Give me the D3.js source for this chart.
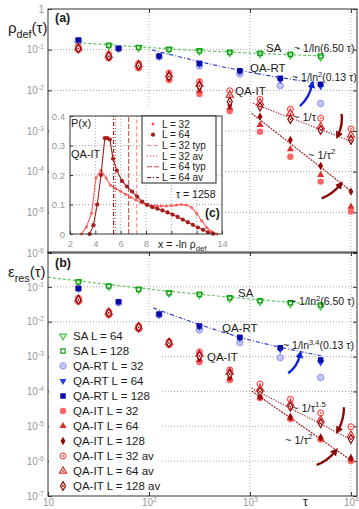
<!DOCTYPE html>
<html>
<head>
<meta charset="utf-8">
<script src="https://cdn.jsdelivr.net/npm/d3@7"></script>
<style>
  body { margin: 0; background: #fff; }
  svg { display: block; font-family: "Liberation Sans", Arial, sans-serif; }
</style>
</head>
<body>
<svg id="chart" width="359" height="509"></svg>
<script>
// annealing times
const tauSA = [20, 40, 79, 158, 316, 631, 1259, 2512, 5012];
const tauRT = [20, 50, 126, 316, 794, 1995, 5012];
const tauIT = [20, 40, 79, 158, 316, 631, 1259, 2512, 5012, 10000];

// (a) density of defects
const rhoSA64 = [0.141, 0.125, 0.112, 0.100, 0.092, 0.084, 0.079, 0.074, 0.066];
const rhoSA128 = [0.144, 0.128, 0.114, 0.102, 0.094, 0.086, 0.0815, 0.077, 0.070];
const rhoRT32 = [0.165, 0.104, 0.066, 0.040, 0.0252, 0.0131, 0.00475];
const rhoRT64 = [0.170, 0.106, 0.068, 0.044, 0.029, 0.018, 0.0125];
const rhoRT128 = [0.173, 0.108, 0.070, 0.046, 0.0304, 0.0198, 0.0141];
const rhoIT32 = [0.0982, 0.0614, 0.0347, 0.0179, 0.00813, 0.0031, 0.00096, 0.000233, 5.7e-5, 1.05e-5];
const rhoIT64 = [0.102, 0.0646, 0.0372, 0.0195, 0.00964, 0.00368, 0.00141, 0.000355, 8.3e-5, 1.38e-5];
const rhoIT128 = [0.105, 0.0676, 0.0398, 0.0209, 0.0114, 0.00437, 0.00225, 0.0006, 0.000138, 3.24e-5];
const rhoIT32av = [0.117, 0.0776, 0.0457, 0.0267, 0.0163, 0.0098, 0.00603, 0.00342, 0.00206, 0.00112];
const rhoIT64av = [0.112, 0.0724, 0.0427, 0.024, 0.0143, 0.00767, 0.0049, 0.00272, 0.00128, 0.00079];
const rhoIT128av = [0.107, 0.0692, 0.0407, 0.0219, 0.0128, 0.00525, 0.00398, 0.00194, 0.00106, 0.0006];

// (b) residual energy
const epsSA64 = [0.137, 0.103, 0.083, 0.066, 0.059, 0.047, 0.038, 0.033, 0.028];
const epsSA128 = [0.1406, 0.106, 0.0851, 0.068, 0.0612, 0.0489, 0.0401, 0.0351, 0.0302];
const epsRT32 = [0.087, 0.035, 0.0155, 0.0058, 0.00251, 0.00093, 0.00025];
const epsRT64 = [0.089, 0.0365, 0.016, 0.0071, 0.0033, 0.0016, 0.00068];
const epsRT128 = [0.091, 0.0376, 0.0166, 0.00753, 0.00357, 0.0018, 0.0008];
const epsIT32 = [0.0375, 0.0156, 0.00607, 0.00215, 0.0007, 0.000213, 6.46e-5, 1.62e-5, 4.17e-6, 1.01e-6];
const epsIT64 = [0.0389, 0.0162, 0.00631, 0.00224, 0.000794, 0.000235, 6.76e-5, 1.74e-5, 4.47e-6, 1.12e-6];
const epsIT128 = [0.0407, 0.017, 0.00661, 0.00234, 0.000912, 0.000259, 7.06e-5, 1.85e-5, 4.79e-6, 1.23e-6];
const epsIT32av = [0.047, 0.0194, 0.00753, 0.00267, 0.00135, 0.000412, 0.000163, 5.96e-5, 2.41e-5, 9.75e-6];
const epsIT64av = [0.0447, 0.0186, 0.00724, 0.00257, 0.00118, 0.000361, 0.000118, 4.37e-5, 1.52e-5, 5.62e-6];
const epsIT128av = [0.0427, 0.0178, 0.00692, 0.00246, 0.00105, 0.000316, 9.8e-5, 3.65e-5, 1.22e-5, 4.33e-6];

// fit curves as [tau, value]
const fitA_SA = [[20, 0.148], [316, 0.095], [5047, 0.070]];
const fitA_RT = [[107, 0.098], [794, 0.031], [5280, 0.0143]];
const fitA_IT1 = [[1072, 0.0048], [10230, 0.000546]];
const fitA_IT2 = [[1040, 0.00272], [10230, 3.22e-5]];
const fitB_SA = [[10, 0.188], [316, 0.0612], [5164, 0.0302]];
const fitB_RT = [[110, 0.0248], [794, 0.0036], [5164, 0.00104]];
const fitB_IT15 = [[1040, 0.000123], [10160, 4.05e-6]];
const fitB_IT2 = [[1040, 0.000103], [10160, 1.03e-6]];

// (c) inset: P(x) at tau = 1258
const inX32 = [2.9, 3.3, 3.7, 4.05, 4.45, 4.85, 5.2, 5.6, 6.0, 6.4, 6.8, 7.2, 7.6, 8.0, 8.4, 8.8, 9.2, 9.6, 10.0, 10.4, 10.8, 11.2, 11.6, 12.0, 12.4, 12.8, 13.2, 13.6];
const inP32 = [0, 0.025, 0.07, 0.19, 0.216, 0.19, 0.165, 0.154, 0.145, 0.135, 0.125, 0.115, 0.107, 0.1, 0.097, 0.096, 0.095, 0.095, 0.096, 0.098, 0.1, 0.098, 0.09, 0.07, 0.045, 0.022, 0.008, 0];
const inX64 = [3.55, 3.85, 4.15, 4.45, 4.75, 4.95, 5.15, 5.4, 5.7, 6.1, 6.5, 6.9, 7.3, 7.7, 8.1, 8.5, 8.9, 9.3, 9.7, 10.1, 10.5, 10.9, 11.3, 11.7, 12.1, 12.5, 12.9, 13.3];
const inP64 = [0, 0.03, 0.1, 0.2, 0.325, 0.325, 0.32, 0.255, 0.215, 0.18, 0.161, 0.144, 0.127, 0.11, 0.099, 0.091, 0.086, 0.08, 0.073, 0.066, 0.058, 0.049, 0.04, 0.031, 0.022, 0.014, 0.006, 0.001];
const inLineX = [7.27, 5.57, 6.63, 5.44];   // L32 typ, L32 av, L64 typ, L64 av

const legendNames = ["SA L = 64", "SA L = 128", "QA-RT L = 32", "QA-RT L = 64", "QA-RT L = 128",
  "QA-IT L = 32", "QA-IT L = 64", "QA-IT L = 128", "QA-IT L = 32 av", "QA-IT L = 64 av", "QA-IT L = 128 av"];
const inLegend = ["L = 32", "L = 64", "L = 32 typ", "L = 32 av", "L = 64 typ", "L = 64 av"];

const svg = d3.select("#chart");
const xL = 48, xR = 357;
const x = d3.scaleLog().domain([10, 11480]).range([xL, xR]);
const ya = d3.scaleLog().domain([1e-6, 1]).range([253, 9]);
const yb = d3.scaleLog().domain([1e-7, 1]).range([496, 252]);

const RED = "#8a0a0a", BLUE = "#0b22d6";

const marks = {
  sa64:   {sym: d3.symbolTriangle, size: 20, rot: 180, fill: "none", stroke: "#3ccc3c"},
  sa128:  {sym: d3.symbolSquare, size: 18, fill: "none", stroke: "#129a12"},
  rt32:   {sym: d3.symbolCircle, size: 30, fill: "#c6c8ff", stroke: "#9a9cf2"},
  rt64:   {sym: d3.symbolTriangle, size: 22, rot: 180, fill: "#2b3cf0"},
  rt128:  {sym: d3.symbolSquare, size: 30, fill: "#0a0aa6"},
  it32:   {sym: d3.symbolCircle, size: 32, fill: "#ff6767"},
  it64:   {sym: d3.symbolTriangle, size: 22, fill: "#dc2e2e"},
  it128:  {sym: d3.symbolDiamond, size: 20, fill: "#960404"},
  it32av: {sym: d3.symbolCircle, size: 26, fill: "#fff", stroke: "#ff5050", dot: true},
  it64av: {sym: d3.symbolTriangle, size: 22, fill: "#fff", stroke: "#dc3030", dot: true},
  it128av:{sym: d3.symbolDiamond, size: 22, fill: "#fff", stroke: "#960404", dot: true}
};

function drawMark(g, key, cx, cy) {
  const m = marks[key];
  g.append("path")
    .attr("d", d3.symbol(m.sym, m.size)())
    .attr("transform", "translate(" + cx + "," + cy + ")" + (m.rot ? " rotate(" + m.rot + ")" : ""))
    .attr("fill", m.fill)
    .attr("stroke", m.stroke || "none")
    .attr("stroke-width", 1.2);
  if (m.dot) g.append("circle").attr("cx", cx).attr("cy", cy).attr("r", 0.9).attr("fill", m.stroke);
}

function rich(g, px, py, parts, size, opts) {
  opts = opts || {};
  const t = g.append("text").attr("x", px).attr("y", py).attr("font-size", size)
    .attr("fill", opts.fill || "#1a1a1a").attr("text-anchor", opts.anchor || "start");
  if (opts.bold) t.attr("font-weight", "bold");
  let shift = 0;
  parts.forEach(p => {
    const s = Array.isArray(p) ? p[0] : p, k = Array.isArray(p) ? p[1] : "";
    const target = k === "sup" ? -size * 0.42 : k === "sub" ? size * 0.3 : 0;
    t.append("tspan").attr("dy", target - shift).attr("font-size", k ? size * 0.72 : size).text(s);
    shift = target;
  });
  return t;
}

function panel(y, decades, labelled) {
  const top = y.range()[1], bot = y.range()[0];
  const grid = svg.append("g").attr("stroke", "#aaa").attr("stroke-dasharray", "1,2");
  decades.slice(1, -1).forEach(d => grid.append("line").attr("x1", xL).attr("x2", xR).attr("y1", y(d)).attr("y2", y(d)));
  [100, 1000, 10000].forEach(t => grid.append("line").attr("x1", x(t)).attr("x2", x(t)).attr("y1", top).attr("y2", bot));

  const left = svg.append("g").attr("transform", "translate(" + xL + ",0)")
    .call(d3.axisLeft(y).tickValues(decades).tickSize(-4).tickPadding(4));
  left.select(".domain").remove();
  left.selectAll(".tick line").attr("stroke", "#333");
  left.selectAll(".tick text").attr("fill", "#999").attr("font-size", 10)
    .attr("font-family", "Liberation Sans, Arial, sans-serif")
    .each(function(d) {
      const t = d3.select(this).text("");
      if (!labelled(d)) return;
      if (d === 1) { t.text("1"); return; }
      t.append("tspan").text("10");
      t.append("tspan").attr("dy", -4).attr("font-size", 7).text(Math.round(Math.log10(d)));
    });
  const right = svg.append("g").attr("transform", "translate(" + xR + ",0)")
    .call(d3.axisRight(y).tickValues(decades).tickSize(-4).tickFormat(""));
  right.select(".domain").remove();
  right.selectAll(".tick line").attr("stroke", "#333");
  const topAx = svg.append("g").attr("transform", "translate(0," + top + ")")
    .call(d3.axisTop(x).tickValues([100, 1000, 10000]).tickSize(-4).tickFormat(""));
  topAx.select(".domain").remove();
  topAx.selectAll(".tick line").attr("stroke", "#333");
}

function frame(y) {
  svg.append("rect").attr("x", xL).attr("y", y.range()[1]).attr("width", xR - xL)
    .attr("height", y.range()[0] - y.range()[1]).attr("fill", "none").attr("stroke", "#333");
}

function fit(y, pts, color, dash) {
  svg.append("path").datum(pts)
    .attr("d", d3.line().x(d => x(d[0])).y(d => y(d[1])).curve(d3.curveMonotoneX))
    .attr("fill", "none").attr("stroke", color).attr("stroke-width", 1.1).attr("stroke-dasharray", dash);
}

function series(y, list) {
  const g = svg.append("g");
  list.forEach(s => s.tau.forEach((t, i) => drawMark(g, s.key, x(t), y(s.vals[i]))));
}

const defs = svg.append("defs");
[["arRed", RED], ["arBlue", BLUE]].forEach(([id, c]) => {
  defs.append("marker").attr("id", id).attr("viewBox", "0 0 10 10").attr("refX", 4).attr("refY", 5)
    .attr("markerWidth", 3.2).attr("markerHeight", 3.2).attr("orient", "auto")
    .append("path").attr("d", "M0,0 L10,5 L0,10 z").attr("fill", c);
});

function arrow(y, a) {
  const x1 = x(a.from[0]), y1 = y(a.from[1]), x2 = x(a.to[0]), y2 = y(a.to[1]);
  const dx = x2 - x1, dy = y2 - y1, len = Math.hypot(dx, dy);
  const cx = (x1 + x2) / 2 - dy / len * a.bend, cy = (y1 + y2) / 2 + dx / len * a.bend;
  svg.append("path").attr("d", "M" + x1 + "," + y1 + " Q" + cx + "," + cy + " " + x2 + "," + y2)
    .attr("fill", "none").attr("stroke", a.c === "blue" ? BLUE : RED).attr("stroke-width", 2.4)
    .attr("marker-end", "url(#" + (a.c === "blue" ? "arBlue" : "arRed") + ")");
}

// ---------------- panel (a)
const decA = [1, 1e-1, 1e-2, 1e-3, 1e-4, 1e-5, 1e-6];
panel(ya, decA, d => true);

fit(ya, fitA_SA, "#5cc45c", "3,2");
fit(ya, fitA_RT, "#2233cc", "4,2,1,2");
series(ya, [
  {key: "sa64", tau: tauSA, vals: rhoSA64},
  {key: "sa128", tau: tauSA, vals: rhoSA128},
  {key: "rt32", tau: tauRT, vals: rhoRT32},
  {key: "rt64", tau: tauRT, vals: rhoRT64},
  {key: "rt128", tau: tauRT, vals: rhoRT128},
  {key: "it32", tau: tauIT, vals: rhoIT32},
  {key: "it64", tau: tauIT, vals: rhoIT64},
  {key: "it128", tau: tauIT, vals: rhoIT128},
  {key: "it32av", tau: tauIT, vals: rhoIT32av},
  {key: "it64av", tau: tauIT, vals: rhoIT64av},
  {key: "it128av", tau: tauIT, vals: rhoIT128av}
]);
fit(ya, fitA_IT1, "#a01010", "1.2,1.5");
fit(ya, fitA_IT2, "#a01010", "2,1");

[{from: [3126, 0.0041], to: [4110, 0.0135], c: "blue", bend: 4},
 {from: [8090, 0.00262], to: [7480, 0.0008], c: "red", bend: -3},
 {from: [5130, 2.21e-5], to: [7780, 4.7e-5], c: "red", bend: 3}].forEach(a => arrow(ya, a));

const la = svg.append("g");
rich(la, 266, 52, ["SA"], 11.5);
rich(la, 294, 52, ["~ 1/ln(6.50 τ)"], 10.5);
rich(la, 250, 72, ["QA-RT"], 11.5);
rich(la, 292, 81, ["~ 1/ln", ["2", "sup"], "(0.13 τ)"], 10.5);
rich(la, 235, 95, ["QA-IT"], 11.5);
rich(la, 293, 121, ["~ 1/τ"], 11);
rich(la, 308, 159, ["~ 1/τ", ["2", "sup"]], 11);
rich(la, 55, 22, ["(a)"], 12.5, {bold: true});
rich(la, 8, 33, ["ρ", ["def", "sub"], "(τ)"], 15);

// ---------------- inset (c)
const ix = d3.scaleLinear().domain([2, 14]).range([70, 222]);
const iy = d3.scaleLinear().domain([0, 0.4]).range([234, 116]);
svg.append("rect").attr("x", 49).attr("y", 107).attr("width", 175).attr("height", 145).attr("fill", "#fff");
const ig = svg.append("g").attr("stroke", "#aaa").attr("stroke-dasharray", "1,2");
[4, 6, 8, 10, 12].forEach(v => ig.append("line").attr("x1", ix(v)).attr("x2", ix(v)).attr("y1", iy(0)).attr("y2", iy(0.4)));
[0.1, 0.2, 0.3].forEach(v => ig.append("line").attr("x1", ix(2)).attr("x2", ix(14)).attr("y1", iy(v)).attr("y2", iy(v)));

const iLeft = svg.append("g").attr("transform", "translate(" + ix(2) + ",0)")
  .call(d3.axisLeft(iy).tickValues([0, 0.1, 0.2, 0.3, 0.4]).tickSize(-3).tickPadding(5).tickFormat(d3.format("~g")));
const iBot = svg.append("g").attr("transform", "translate(0," + iy(0) + ")")
  .call(d3.axisBottom(ix).tickValues([2, 4, 6, 8, 10, 12, 14]).tickSize(-3).tickPadding(6)
    .tickFormat(d => (d === 10 || d === 12) ? "" : d));
[iLeft, iBot].forEach(a => {
  a.select(".domain").remove();
  a.selectAll(".tick line").attr("stroke", "#333");
  a.selectAll(".tick text").attr("fill", "#999").attr("font-size", 9.5).attr("font-family", "Liberation Sans, Arial, sans-serif");
});

const inStyles = [
  {c: "#ff7a7a", dash: "4,2.5"},
  {c: "#ff3a3a", dash: "1.2,1.8"},
  {c: "#c04848", dash: "5,2"},
  {c: "#8e1414", dash: "4,2,1,2"}
];
inLineX.forEach((v, i) => svg.append("line").attr("x1", ix(v)).attr("x2", ix(v)).attr("y1", iy(0)).attr("y2", iy(0.4))
  .attr("stroke", inStyles[i].c).attr("stroke-dasharray", inStyles[i].dash));

const ln = d3.line().x(d => ix(d[0])).y(d => iy(d[1]));
const d32 = inX32.map((v, i) => [v, inP32[i]]), d64 = inX64.map((v, i) => [v, inP64[i]]);
svg.append("path").attr("d", ln(d32)).attr("fill", "none").attr("stroke", "#ff5c5c").attr("stroke-width", 1.1);
svg.selectAll(".p32").data(d32).enter().append("circle").attr("cx", d => ix(d[0])).attr("cy", d => iy(d[1]))
  .attr("r", 1.5).attr("fill", "#ff5c5c");
svg.append("path").attr("d", ln(d64)).attr("fill", "none").attr("stroke", "#a81c1c").attr("stroke-width", 1.1);
svg.selectAll(".p64").data(d64).enter().append("circle").attr("cx", d => ix(d[0])).attr("cy", d => iy(d[1]))
  .attr("r", 2.1).attr("fill", "#a81c1c");

svg.append("rect").attr("x", 70).attr("y", 116).attr("width", 152).attr("height", 118).attr("fill", "none").attr("stroke", "#333");

// inset legend
const il = svg.append("g");
il.append("rect").attr("x", 142).attr("y", 116).attr("width", 74).attr("height", 67).attr("fill", "#fff").attr("stroke", "#222");
inLegend.forEach((name, i) => {
  const yy = 124 + i * 10.7;
  if (i === 0) il.append("circle").attr("cx", 153).attr("cy", yy).attr("r", 1.5).attr("fill", "#ff5c5c");
  else if (i === 1) il.append("circle").attr("cx", 153).attr("cy", yy).attr("r", 2.1).attr("fill", "#a81c1c");
  else il.append("line").attr("x1", 147).attr("x2", 159).attr("y1", yy).attr("y2", yy)
    .attr("stroke", inStyles[i - 2].c).attr("stroke-dasharray", inStyles[i - 2].dash);
  rich(il, 162, yy + 3.5, [name], 10);
});
rich(il, 71, 127, ["P(x)"], 11);
rich(il, 71, 158, ["QA-IT"], 11);
rich(il, 176, 198, ["τ = 1258"], 10.5);
rich(il, 205, 217, ["(c)"], 12, {bold: true});
rich(il, 158, 248, ["x = -ln ρ", ["def", "sub"]], 10.5);

frame(ya);

// ---------------- panel (b)
const decB = [1, 1e-1, 1e-2, 1e-3, 1e-4, 1e-5, 1e-6, 1e-7];
panel(yb, decB, d => d < 1);

// legend background hides the grid
svg.append("rect").attr("x", 49).attr("y", 327).attr("width", 111).attr("height", 168).attr("fill", "#fff");

fit(yb, fitB_SA, "#5cc45c", "3,2");
fit(yb, fitB_RT, "#2233cc", "4,2,1,2");
series(yb, [
  {key: "sa64", tau: tauSA, vals: epsSA64},
  {key: "sa128", tau: tauSA, vals: epsSA128},
  {key: "rt32", tau: tauRT, vals: epsRT32},
  {key: "rt64", tau: tauRT, vals: epsRT64},
  {key: "rt128", tau: tauRT, vals: epsRT128},
  {key: "it32", tau: tauIT, vals: epsIT32},
  {key: "it64", tau: tauIT, vals: epsIT64},
  {key: "it128", tau: tauIT, vals: epsIT128},
  {key: "it32av", tau: tauIT, vals: epsIT32av},
  {key: "it64av", tau: tauIT, vals: epsIT64av},
  {key: "it128av", tau: tauIT, vals: epsIT128av}
]);
fit(yb, fitB_IT15, "#a01010", "1.2,1.5");
fit(yb, fitB_IT2, "#a01010", "2,1");

[{from: [2393, 0.000331], to: [3126, 0.00111], c: "blue", bend: 4},
 {from: [8530, 3.5e-5], to: [7480, 7.8e-6], c: "red", bend: -3},
 {from: [4570, 7.76e-7], to: [6950, 1.87e-6], c: "red", bend: 3}].forEach(a => arrow(yb, a));

const lb = svg.append("g");
rich(lb, 238, 297, ["SA"], 11.5);
rich(lb, 290, 305, ["~ 1/ln", ["2", "sup"], "(6.50 τ)"], 10.5);
rich(lb, 222, 332, ["QA-RT"], 11.5);
rich(lb, 283, 349, ["~ 1/ln", ["3.4", "sup"], "(0.13 τ)"], 10.5);
rich(lb, 207, 361, ["QA-IT"], 11.5);
rich(lb, 292, 412, ["~ 1/τ", ["1.5", "sup"]], 11);
rich(lb, 285, 444, ["~ 1/τ", ["2", "sup"]], 11);
rich(lb, 55, 267, ["(b)"], 12.5, {bold: true});
rich(lb, 8, 277, ["ε", ["res", "sub"], "(τ)"], 15);

// legend
const keys = Object.keys(marks);
legendNames.forEach((name, i) => {
  const yy = 336 + i * 15;
  drawMark(lb, keys[i], 63, yy);
  rich(lb, 73, yy + 4, [name], 11.5);
});

// x axis of (b)
const xb = svg.append("g").attr("transform", "translate(0," + yb.range()[0] + ")")
  .call(d3.axisBottom(x).tickValues([10, 100, 1000, 10000]).tickSize(-4).tickPadding(3));
xb.select(".domain").remove();
xb.selectAll(".tick line").attr("stroke", "#333");
xb.selectAll(".tick text").attr("fill", "#999").attr("font-size", 10)
  .attr("font-family", "Liberation Sans, Arial, sans-serif")
  .each(function(d) {
    const t = d3.select(this).text("");
    if (d === 10) { t.text("10"); return; }
    t.append("tspan").text("10");
    t.append("tspan").attr("dy", -4).attr("font-size", 7).text(Math.round(Math.log10(d)));
  });
rich(lb, 303, 506, ["τ"], 12);

frame(yb);
</script>
</body>
</html>
